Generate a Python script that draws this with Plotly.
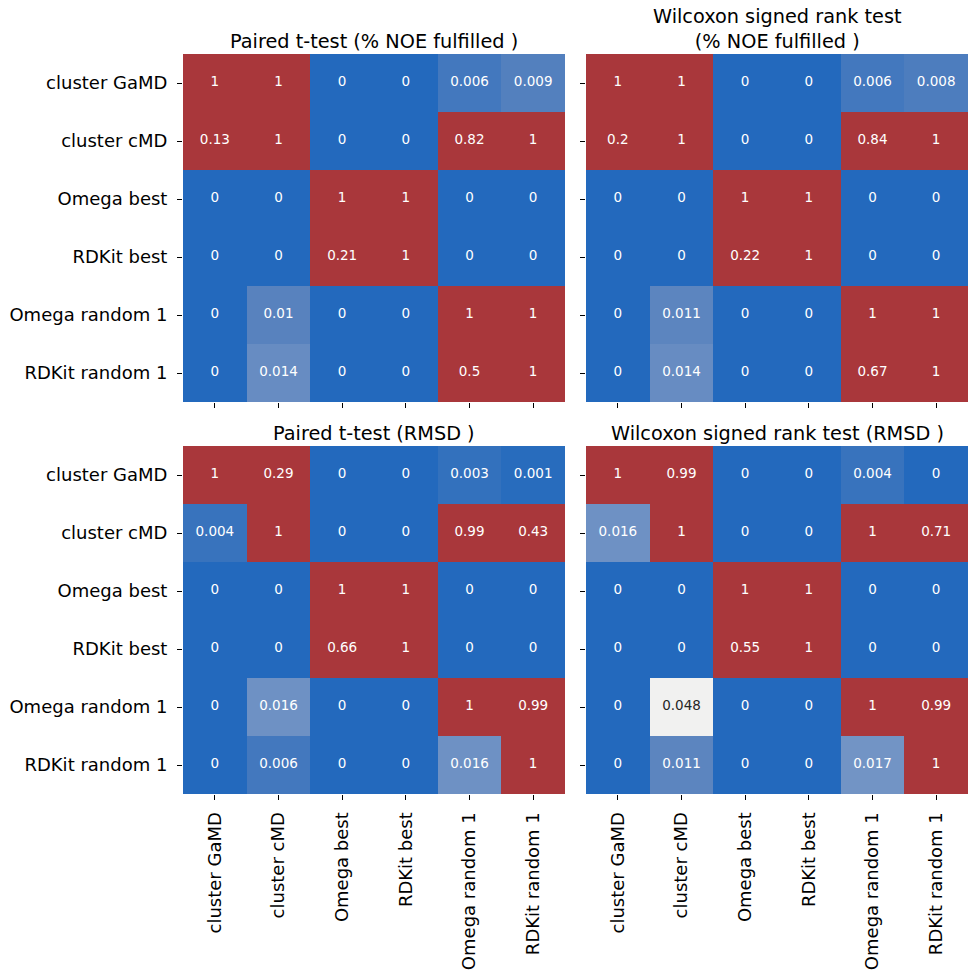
import plotly.graph_objects as go

labels = ["cluster GaMD", "cluster cMD", "Omega best", "RDKit best",
          "Omega random 1", "RDKit random 1"]

noe_ttest = [
    [1, 1, 0, 0, 0.006, 0.009],
    [0.13, 1, 0, 0, 0.82, 1],
    [0, 0, 1, 1, 0, 0],
    [0, 0, 0.21, 1, 0, 0],
    [0, 0.01, 0, 0, 1, 1],
    [0, 0.014, 0, 0, 0.5, 1],
]
noe_wilcoxon = [
    [1, 1, 0, 0, 0.006, 0.008],
    [0.2, 1, 0, 0, 0.84, 1],
    [0, 0, 1, 1, 0, 0],
    [0, 0, 0.22, 1, 0, 0],
    [0, 0.011, 0, 0, 1, 1],
    [0, 0.014, 0, 0, 0.67, 1],
]
rmsd_ttest = [
    [1, 0.29, 0, 0, 0.003, 0.001],
    [0.004, 1, 0, 0, 0.99, 0.43],
    [0, 0, 1, 1, 0, 0],
    [0, 0, 0.66, 1, 0, 0],
    [0, 0.016, 0, 0, 1, 0.99],
    [0, 0.006, 0, 0, 0.016, 1],
]
rmsd_wilcoxon = [
    [1, 0.99, 0, 0, 0.004, 0],
    [0.016, 1, 0, 0, 1, 0.71],
    [0, 0, 1, 1, 0, 0],
    [0, 0, 0.55, 1, 0, 0],
    [0, 0.048, 0, 0, 1, 0.99],
    [0, 0.011, 0, 0, 0.017, 1],
]

titles = ["Paired t-test (% NOE fulfilled )",
          "Wilcoxon signed rank test<br>(% NOE fulfilled )",
          "Paired t-test (RMSD )",
          "Wilcoxon signed rank test (RMSD )"]

panels = [noe_ttest, noe_wilcoxon, rmsd_ttest, rmsd_wilcoxon]

# approximate seaborn "vlag" colormap
stops = [
    (0.0, (35, 105, 189)),
    (0.1, (88, 130, 190)),
    (0.2, (125, 155, 200)),
    (0.3, (165, 184, 214)),
    (0.4, (214, 220, 232)),
    (0.45, (236, 237, 239)),
    (0.5, (245, 243, 241)),
    (0.6, (233, 208, 204)),
    (0.7, (216, 168, 164)),
    (0.8, (200, 128, 125)),
    (0.9, (185, 90, 91)),
    (1.0, (169, 55, 59)),
]
colorscale = [[s, "rgb(%d,%d,%d)" % c] for s, c in stops]
ZMIN, ZMAX = 0.0, 0.1


def color_at(v):
    t = min(max((v - ZMIN) / (ZMAX - ZMIN), 0), 1)
    for (s0, c0), (s1, c1) in zip(stops[:-1], stops[1:]):
        if s0 <= t <= s1:
            f = (t - s0) / (s1 - s0) if s1 > s0 else 0
            return [c0[i] + f * (c1[i] - c0[i]) for i in range(3)]
    return list(stops[-1][1])


def luminance(rgb):
    out = []
    for c in rgb:
        c = c / 255.0
        out.append(c / 12.92 if c <= 0.03928 else ((c + 0.055) / 1.055) ** 2.4)
    return 0.2126 * out[0] + 0.7152 * out[1] + 0.0722 * out[2]


W = 978.0
xdoms = [(183 / W, 565 / W), (586 / W, 968 / W)]
ydoms = [((W - 402) / W, (W - 54) / W), ((W - 794) / W, (W - 446) / W)]

fig = go.Figure()
FONT = "DejaVu Sans"

for k, z in enumerate(panels):
    r, c = divmod(k, 2)
    ax = "" if k == 0 else str(k + 1)
    fig.add_trace(go.Heatmap(
        z=z, x=labels, y=labels, zmin=ZMIN, zmax=ZMAX,
        colorscale=colorscale, showscale=False,
        xaxis="x" + ax, yaxis="y" + ax, hoverinfo="skip"))
    xs, ys, txt, cols = [], [], [], []
    for i, row in enumerate(z):
        for j, v in enumerate(row):
            xs.append(labels[j])
            ys.append(labels[i])
            txt.append("{:.2g}".format(v))
            cols.append("#262626" if luminance(color_at(v)) > 0.408 else "white")
    fig.add_trace(go.Scatter(
        x=xs, y=ys, text=txt, mode="text",
        textfont=dict(family=FONT, size=13.5, color=cols),
        xaxis="x" + ax, yaxis="y" + ax, hoverinfo="skip", showlegend=False))

    xd, yd = xdoms[c], ydoms[r]
    fig.update_layout(**{
        "xaxis" + ax: dict(
            domain=list(xd), anchor="y" + ax, type="category",
            categoryorder="array", categoryarray=labels,
            showgrid=False, zeroline=False, showline=False,
            ticks="outside", ticklen=5, tickwidth=1.1, tickcolor="black",
            showticklabels=(r == 1), tickangle=-90,
            ticklabelstandoff=5,
            tickfont=dict(family=FONT, size=18, color="black")),
        "yaxis" + ax: dict(
            domain=list(yd), anchor="x" + ax, type="category",
            categoryorder="array", categoryarray=labels,
            autorange="reversed",
            showgrid=False, zeroline=False, showline=False,
            ticks="outside", ticklen=5, tickwidth=1.1, tickcolor="black",
            showticklabels=(c == 0),
            ticklabelstandoff=6,
            tickfont=dict(family=FONT, size=18, color="black")),
    })
    fig.add_annotation(
        text=titles[k], xref="paper", yref="paper",
        x=(xd[0] + xd[1]) / 2, y=yd[1], xanchor="center", yanchor="bottom",
        yshift=-1, showarrow=False,
        font=dict(family=FONT, size=19.3, color="black"))

fig.update_layout(
    width=978, height=978,
    margin=dict(l=0, r=0, t=0, b=0),
    paper_bgcolor="white", plot_bgcolor="white",
    showlegend=False)

fig.write_html("out.html",
               config={"displayModeBar": False},
               post_script="document.body.style.margin='0px';"
                           "document.body.style.padding='0px';")
